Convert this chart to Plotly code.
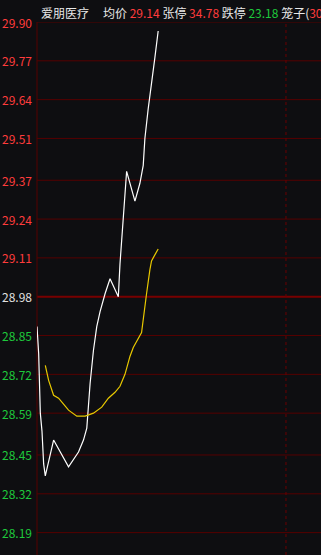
import plotly.graph_objects as go

# ---- data ----
prev_close = 28.98
tick_labels = ["29.90", "29.77", "29.64", "29.51", "29.37", "29.24", "29.11",
               "28.98", "28.85", "28.72", "28.59", "28.45", "28.32", "28.19"]

# minute index and price of the price line (white)
price_t = [0, 1, 2, 3, 4, 5, 10, 19, 25, 28, 30, 32, 34, 36, 38, 41, 44, 49,
           50, 51, 52, 53, 54, 59, 62, 64, 65, 67, 69, 71, 73]
price_v = [28.88, 28.79, 28.59, 28.53, 28.42, 28.38, 28.50, 28.41, 28.46, 28.50,
           28.54, 28.69, 28.80, 28.88, 28.93, 28.99, 29.04, 28.98,
           29.09, 29.16, 29.24, 29.32, 29.40, 29.30, 29.36, 29.42, 29.51,
           29.61, 29.69, 29.78, 29.87]

# minute index and value of the average-price line (yellow)
avg_t = [5, 7, 10, 13, 16, 19, 24, 29, 34, 39, 43, 47, 50, 53, 56, 58, 63, 64,
         66, 68, 69, 71, 73]
avg_v = [28.75, 28.70, 28.65, 28.64, 28.62, 28.60, 28.58, 28.58, 28.59, 28.61,
         28.64, 28.66, 28.68, 28.72, 28.78, 28.81, 28.86, 28.91, 28.99, 29.07,
         29.10, 29.12, 29.14]

stock_name = "爱朋医疗"
avg_price = "29.14"
limit_up = "34.78"
limit_down = "23.18"
cage = "30"
mid_session_t = 150

# ---- styles ----
BG = "#0e0e11"
GRID = "#560000"
GRID_MID = "#780000"
RED = "#ff3c3c"
GREEN = "#1ec83c"
NEUTRAL = "#e0e0e0"
TXT = "#e8e8e8"
FONT = "Noto Sans CJK SC"

fig = go.Figure()
fig.add_trace(go.Scatter(x=price_t, y=price_v, mode="lines",
                         line=dict(color="#ffffff", width=1.2), hoverinfo="skip"))
fig.add_trace(go.Scatter(x=avg_t, y=avg_v, mode="lines",
                         line=dict(color="#e8c800", width=1.2), hoverinfo="skip"))

shapes = []
annotations = []
for lab in tick_labels:
    v = float(lab)
    is_mid = abs(v - prev_close) < 1e-9
    shapes.append(dict(type="line", xref="paper", yref="y", x0=0, x1=1, y0=v, y1=v,
                       line=dict(color=GRID_MID if is_mid else GRID,
                                 width=2 if is_mid else 1), layer="below"))
    col = NEUTRAL if is_mid else (RED if v > prev_close else GREEN)
    annotations.append(dict(text=lab, xref="paper", yref="y", x=0, y=v,
                            xanchor="right", yanchor="middle", xshift=-3,
                            showarrow=False, font=dict(color=col, size=12, family=FONT)))

# left axis line
shapes.append(dict(type="line", xref="paper", yref="paper", x0=0, x1=0, y0=0, y1=1,
                   line=dict(color=GRID, width=1), layer="below"))
# mid-session dotted line
shapes.append(dict(type="line", xref="x", yref="paper", x0=mid_session_t, x1=mid_session_t,
                   y0=0, y1=1, line=dict(color="#6a0000", width=1, dash="dot"), layer="below"))

# header
annotations.append(dict(text=stock_name, xref="paper", yref="paper", x=0, y=1,
                        xanchor="left", yanchor="middle", xshift=2, yshift=10,
                        showarrow=False, font=dict(color=TXT, size=12, family=FONT)))
hdr = (f"均价 <span style='color:{RED}'>{avg_price}</span> 张停 "
       f"<span style='color:{RED}'>{limit_up}</span> 跌停 "
       f"<span style='color:{GREEN}'>{limit_down}</span> 笼子("
       f"<span style='color:{RED}'>{cage}</span>")
annotations.append(dict(text=hdr, xref="paper", yref="paper", x=0, y=1,
                        xanchor="left", yanchor="middle", xshift=64, yshift=10,
                        showarrow=False, font=dict(color=TXT, size=12, family=FONT)))

fig.update_layout(
    width=321, height=555,
    margin=dict(l=37, r=0, t=22, b=0),
    paper_bgcolor=BG, plot_bgcolor=BG,
    showlegend=False,
    xaxis=dict(range=[0, 171.1], visible=False, fixedrange=True),
    yaxis=dict(range=[28.115, 29.90], visible=False, fixedrange=True),
    shapes=shapes, annotations=annotations,
    font=dict(family=FONT),
)

fig.write_html("out.html", config={"displayModeBar": False, "staticPlot": True})
